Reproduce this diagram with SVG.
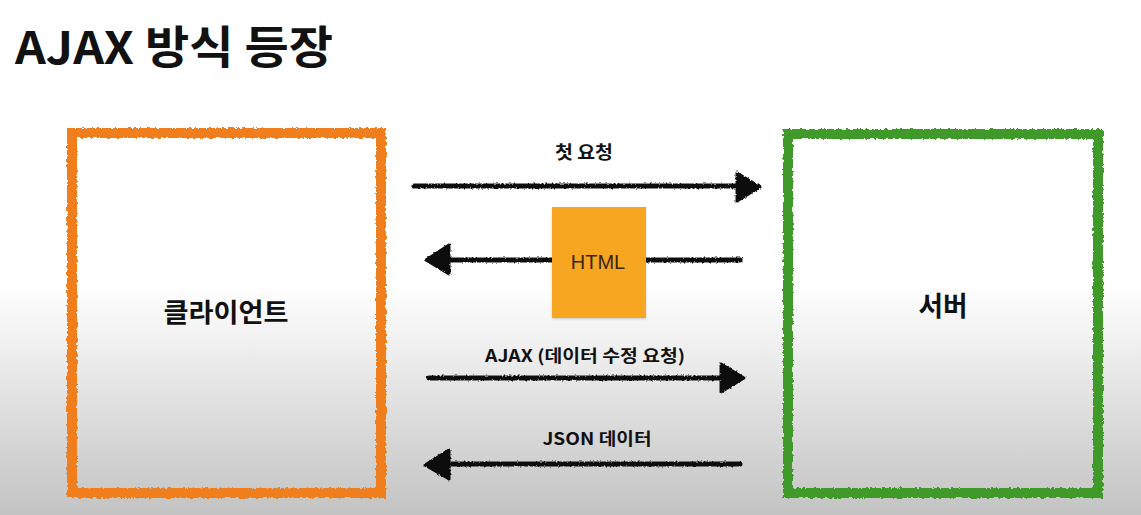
<svg xmlns="http://www.w3.org/2000/svg" width="1141" height="515" viewBox="0 0 1141 515">
<defs>
<linearGradient id="bg" gradientUnits="userSpaceOnUse" x1="0" y1="285" x2="0" y2="515">
<stop offset="0" stop-color="#ffffff"/>
<stop offset="1" stop-color="#c3c3c3"/>
</linearGradient>
<filter id="rough" x="-5%" y="-20%" width="110%" height="140%">
<feTurbulence type="fractalNoise" baseFrequency="0.35" numOctaves="2" seed="3" result="n"/>
<feDisplacementMap in="SourceGraphic" in2="n" scale="4" xChannelSelector="R" yChannelSelector="G"/>
</filter>
<filter id="roughArrow" x="-5%" y="-50%" width="110%" height="200%">
<feTurbulence type="fractalNoise" baseFrequency="0.5" numOctaves="2" seed="7" result="n"/>
<feDisplacementMap in="SourceGraphic" in2="n" scale="3" xChannelSelector="R" yChannelSelector="G"/>
</filter>
<filter id="shadow" x="-10%" y="-10%" width="120%" height="120%">
<feDropShadow dx="0" dy="1" stdDeviation="1" flood-color="#000" flood-opacity="0.2"/>
</filter>
</defs>
<style>
.kr{font-family:"Noto Sans CJK KR","Noto Sans",sans-serif;font-weight:700;fill:#111}
.box{fill:none;stroke-width:10;filter:url(#rough)}
.line{stroke:#111;stroke-width:5;fill:none;stroke-linecap:round}
.head{fill:#111;stroke:#111;stroke-width:3;stroke-linejoin:round}
.lbl{font-size:17px}
</style>
<rect x="0" y="0" width="1141" height="515" fill="url(#bg)"/>
<text class="kr" x="15" y="64" font-size="45" textLength="318" lengthAdjust="spacingAndGlyphs">AJAX 방식 등장</text>

<g id="client">
<rect class="box" x="72" y="133" width="309" height="360" stroke="#F07E1C"/>
<text class="kr" x="226" y="322" font-size="26" text-anchor="middle" textLength="125" lengthAdjust="spacingAndGlyphs">클라이언트</text>
</g>

<g id="server">
<rect class="box" x="788" y="134" width="310" height="359" stroke="#3F9A2B"/>
<text class="kr" x="943" y="316" font-size="27" text-anchor="middle" textLength="49" lengthAdjust="spacingAndGlyphs">서버</text>
</g>

<g id="connectors">
<g filter="url(#roughArrow)">
<line class="line" x1="414" y1="186" x2="740" y2="186"/>
<polygon class="head" points="737,173 760,187 737,201"/>
<line class="line" x1="740" y1="260" x2="445" y2="260"/>
<polygon class="head" points="449,245 426,260 449,274"/>
<line class="line" x1="429" y1="378" x2="724" y2="378"/>
<polygon class="head" points="721,364 744,378 721,392"/>
<line class="line" x1="740" y1="464" x2="445" y2="464"/>
<polygon class="head" points="449,450 425,465 449,479"/>
</g>
<text class="kr" x="584" y="159" font-size="18" text-anchor="middle" textLength="58" lengthAdjust="spacingAndGlyphs">첫 요청</text>
<text class="kr lbl" x="585" y="362" text-anchor="middle" textLength="200" lengthAdjust="spacingAndGlyphs">AJAX (데이터 수정 요청)</text>
<text class="kr lbl" x="597" y="445" text-anchor="middle" textLength="109" lengthAdjust="spacingAndGlyphs">JSON 데이터</text>
</g>

<g id="html">
<rect x="552" y="207" width="94" height="111" fill="#F7A623" filter="url(#shadow)"/>
<text x="598" y="269" font-family="Liberation Sans, Arial, sans-serif" font-size="20" text-anchor="middle" fill="#3a2412">HTML</text>
</g>
</svg>
